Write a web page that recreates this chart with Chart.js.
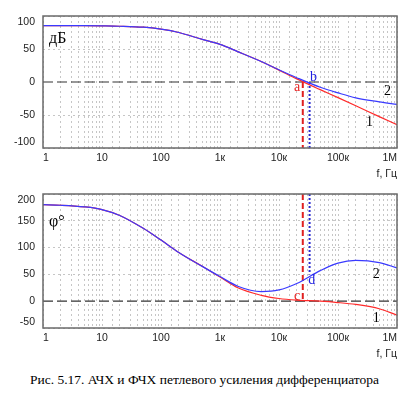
<!DOCTYPE html>
<html><head><meta charset="utf-8">
<script src="https://cdn.jsdelivr.net/npm/chart.js@4.4.1/dist/chart.umd.min.js"></script>
<style>
html,body{margin:0;padding:0;background:#fff;width:409px;height:395px;overflow:hidden;}
.c{position:absolute;left:0;width:409px;height:180px;}
#top{top:0} #bot{top:180px}
#cap{position:absolute;left:0;width:409px;top:372px;text-align:center;font:13.5px "Liberation Serif","Times New Roman",serif;color:#000;white-space:nowrap;}
</style></head><body>
<div class="c" id="top"><canvas id="c1" width="409" height="180"></canvas></div>
<div class="c" id="bot"><canvas id="c2" width="409" height="180"></canvas></div>
<div id="cap">Рис. 5.17. АЧХ и ФЧХ петлевого усиления дифференциатора</div>
<script>
// ---- data ----
const freq   = [1,2,5,10,20,50,100,200,500,1e3,2e3,5e3,1e4,2e4,5e4,1e5,2e5,5e5,1e6];
const gain2  = [85.5,85.5,85.3,85,84.5,83,80,75,64.5,57,46,31,18.5,6.5,-8,-16.5,-24,-30,-34];
const gain1  = [85.5,85.5,85.3,85,84.5,83,80,75,64.5,57,46,31,18,4.7,-11.6,-23.7,-36,-52.4,-64.7];
const phase2 = [180,179,176,171,160,136,114,91,65,46,28,18,21,33,57,71,76,72,62];
const phase1 = [180,179,176,171,160,136,114,91,65,45,25,11,5,2,0,-2.5,-6,-14,-26];
const fA = 25300, fB = 33000;
const xTickValues = [1,10,100,1e3,1e4,1e5,1e6];
const xTickText   = ['1','10','100','1к','10к','100к','1M'];
const gainTicks  = {min:-100, max:100, step:50};
const phaseTicks = {min:-50, max:200, step:50};
const topNotes = [
  {t:'a', x:20200, y:-8, c:'#e82020'},
  {t:'b', x:38500, y:7, c:'#2020e0'},
  {t:'2', x:692000, y:-14.7, c:'#000'},
  {t:'1', x:343000, y:-61.7, c:'#000'}
];
const botNotes = [
  {t:'c', x:20200, y:8.6, c:'#e82020'},
  {t:'d', x:36000, y:38.6, c:'#2020e0'},
  {t:'2', x:446000, y:50.6, c:'#000'},
  {t:'1', x:446000, y:-32, c:'#000'}
];

const BLUE = '#3a3aff', RED = '#ff2a2a';
const SANS = '"Liberation Sans", Arial, sans-serif';
const SERIF = '"Liberation Serif", "Times New Roman", serif';
const GRID = '#c6c6c6';

const pts = (xs, ys) => xs.map((x,i)=>({x:x, y:ys[i]}));

const boxPlugin = {
  id:'box',
  afterDatasetsDraw(chart){
    const a = chart.chartArea, ctx = chart.ctx;
    ctx.save(); ctx.strokeStyle='#6a6a6a'; ctx.lineWidth=1.5;
    ctx.strokeRect(a.left, a.top, a.right-a.left, a.bottom-a.top);
    ctx.restore();
  }
};
const yLabelPlugin = {
  id:'ylab',
  afterDraw(chart){
    const s = chart.scales.y, ctx = chart.ctx;
    ctx.save(); ctx.font = '10.5px '+SANS; ctx.fillStyle='#222';
    ctx.textAlign='right'; ctx.textBaseline='middle';
    s.ticks.forEach(t=>{
      let y = s.getPixelForValue(t.value);
      if (t.value===s.max) y += 6;
      if (t.value===s.min) y -= 6;
      ctx.fillText(String(t.value), chart.chartArea.left-8, y);
    });
    ctx.restore();
  }
};
const notesPlugin = {
  id:'notes',
  afterDraw(chart, args, opts){
    const ctx = chart.ctx, sx = chart.scales.x, sy = chart.scales.y, a = chart.chartArea;
    ctx.save(); ctx.textAlign='center'; ctx.textBaseline='middle';
    ctx.font = '14px '+SERIF;
    (opts.notes||[]).forEach(n=>{
      ctx.fillStyle = n.c;
      ctx.fillText(n.t, sx.getPixelForValue(n.x), sy.getPixelForValue(n.y));
    });
    ctx.font = '16px '+SERIF; ctx.fillStyle='#000'; ctx.textAlign='left';
    ctx.fillText(opts.unit, a.left+6, a.top+(opts.unitDy||23));
    ctx.restore();
  }
};

function makeChart(id, s1, s2, yr, markers, notes, unit, padTop, unitDy){
  const lineDs = (data, color) => ({data, borderColor:color, borderWidth:1.2, pointRadius:0, cubicInterpolationMode:'monotone', fill:false});
  return new Chart(document.getElementById(id), {
    type:'line',
    data:{ datasets:[
      lineDs(pts(freq, s2), BLUE),
      lineDs(pts(freq, s1), RED),
      {data:[{x:fB,y:markers.b[0]},{x:fB,y:markers.b[1]}], borderColor:'#2a2ad0', borderWidth:2, borderDash:[2,2], pointRadius:0},
      {data:[{x:fA,y:markers.a[0]},{x:fA,y:markers.a[1]}], borderColor:'#e02020', borderWidth:2, borderDash:[6,3], pointRadius:0},
      {data:[{x:1,y:0},{x:1e6,y:0}], borderColor:'#333', borderWidth:1.2, borderDash:[10,4], pointRadius:0}
    ]},
    options:{
      responsive:false, animation:false, devicePixelRatio:1,
      layout:{padding:{top:padTop, right:12, left:0, bottom:0}},
      plugins:{legend:{display:false}, tooltip:{enabled:false}, notes:{notes, unit, unitDy}},
      scales:{
        x:{type:'logarithmic', min:1, max:1e6,
           afterFit(s){ s.height = 32; },
           grid:{color:GRID, lineWidth:1, drawTicks:false},
           border:{display:false, dash:[2,3]},
           ticks:{autoSkip:false, maxRotation:0, align:'inner', padding:4, color:'#222', font:{family:SANS, size:10.5},
             callback(v){ const i = xTickValues.findIndex(t=>Math.abs(v/t-1)<1e-6); return i>=0 ? xTickText[i] : ''; }},
           title:{display:true, text:'f, Гц', align:'end', color:'#222', font:{family:SANS, size:10.5}, padding:{top:0,bottom:0}}
        },
        y:{min:yr.min, max:yr.max,
           afterFit(s){ s.width = 43; },
           grid:{color:c=> (c.tick && c.tick.value===0) ? 'rgba(0,0,0,0)' : GRID, lineWidth:1, drawTicks:false},
           border:{display:false, dash:[2,3]},
           ticks:{display:false, stepSize:yr.step}
        }
      }
    },
    plugins:[boxPlugin, yLabelPlugin, notesPlugin]
  });
}

makeChart('c1', gain1, gain2, gainTicks, {a:[0,-100], b:[0,-100]}, topNotes, 'дБ', 16, 23);
makeChart('c2', phase1, phase2, phaseTicks, {a:[200,0], b:[200,50]}, botNotes, 'φ°', 14, 28);
</script>
</body></html>
